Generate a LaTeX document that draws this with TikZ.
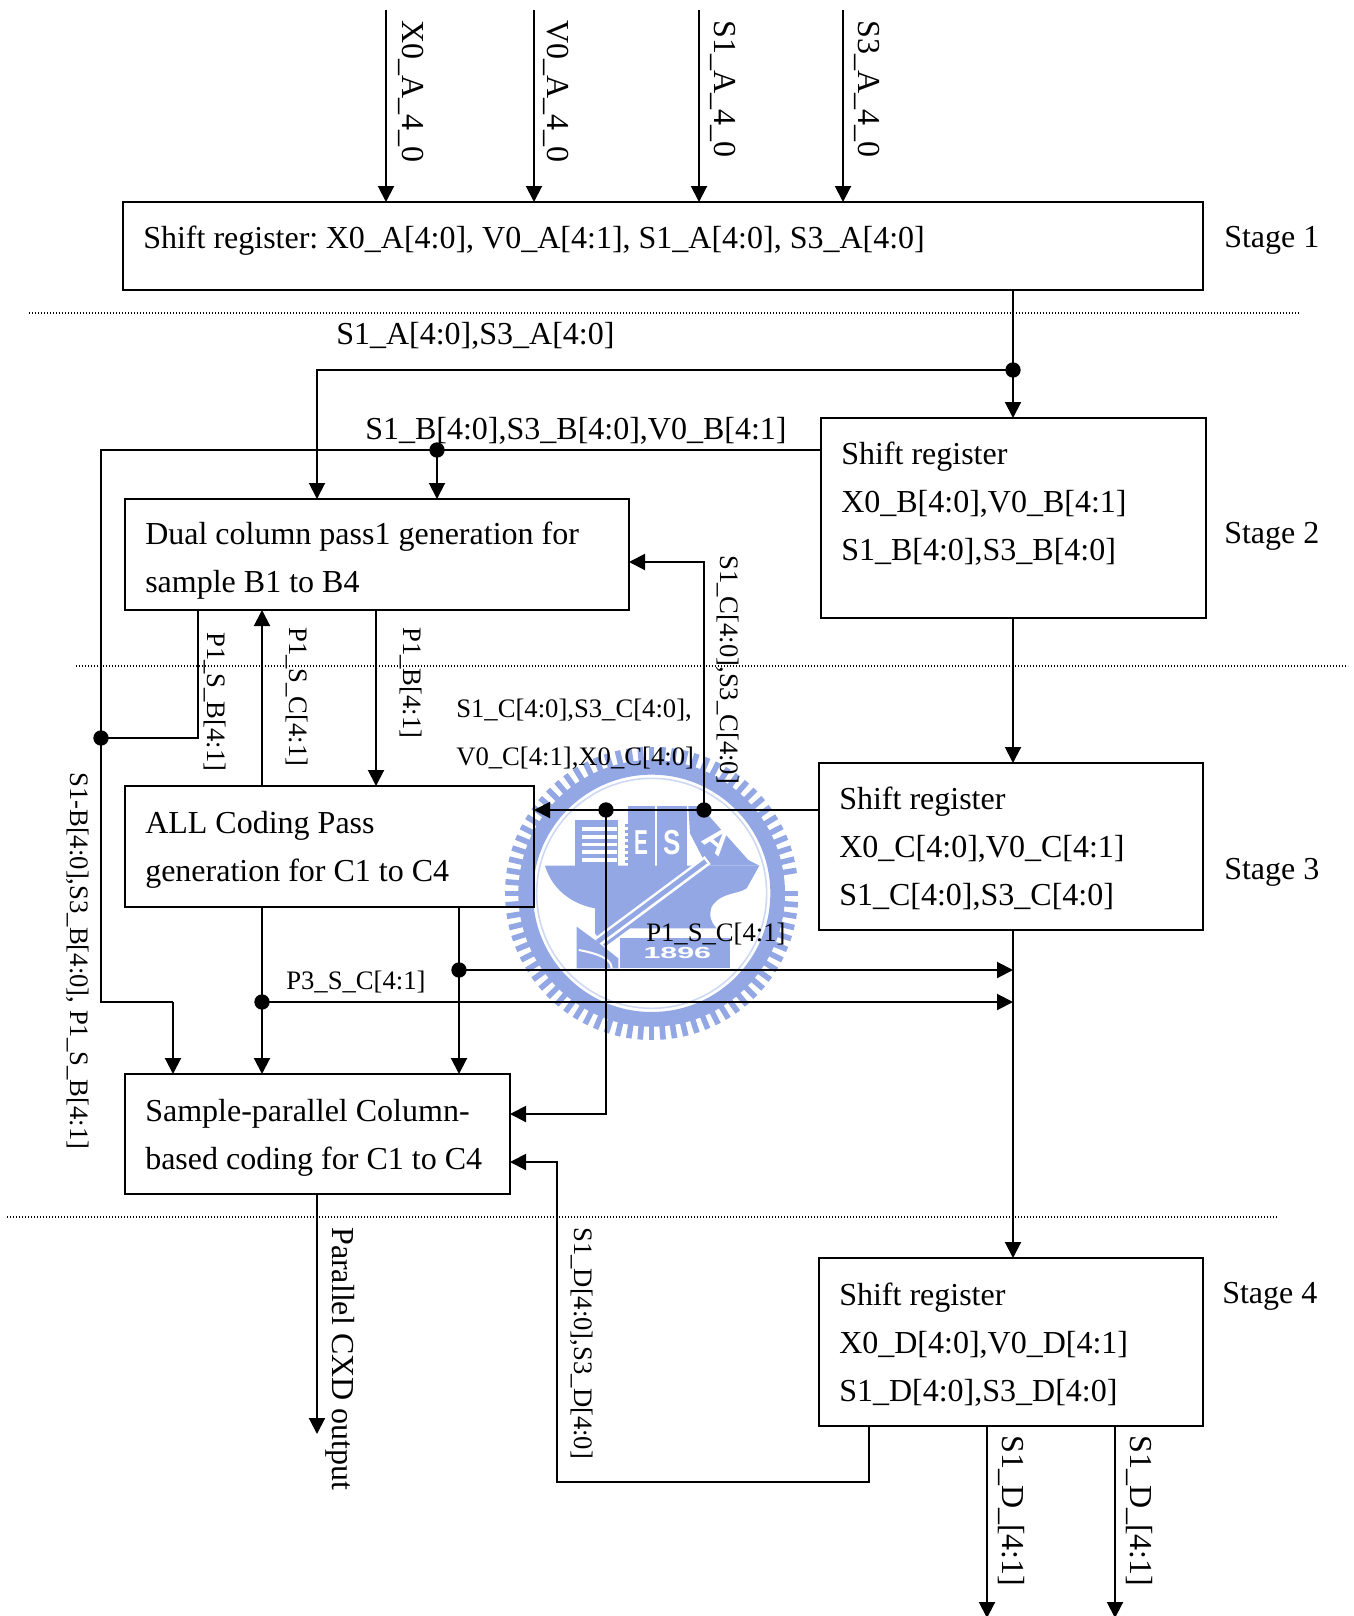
\documentclass[tikz,border=0pt]{standalone}
\usepackage{fontspec}
\setmainfont{Liberation Serif}
\newfontfamily\wmfont{Liberation Sans}
\usetikzlibrary{arrows.meta}
\newcommand{\lblbig}{\fontsize{24}{36}\selectfont}
\newcommand{\lblsmall}{\fontsize{20}{36}\selectfont}
\definecolor{wmblue}{RGB}{146,167,228}
\definecolor{wmpale}{RGB}{205,216,242}
\tikzset{
  regbox/.style={draw=black,line width=1.5pt,anchor=north west,inner sep=0,outer sep=0},
  flow/.style={line width=1.5pt,-{Triangle[length=12pt,width=12pt]}},
  wire/.style={line width=1.5pt},
  joint/.style={circle,fill=black,inner sep=0,minimum size=11.5pt},
  stagesep/.style={line width=0.9pt,dash pattern=on 0.9pt off 1.35pt},
  boxtext/.style={anchor=north west,inner sep=0,align=left,font=\lblbig},
  lbl/.style={anchor=base west,inner sep=0,font=\lblbig},
  lblsm/.style={anchor=base west,inner sep=0,font=\lblsmall},
  rotlbl/.style={lbl,rotate=-90},
  rotlblsm/.style={lblsm,rotate=-90},
  wmtext/.style={inner sep=0,text=white,font=\wmfont\bfseries\fontsize{26}{28}\selectfont},
}
\begin{document}
\begin{tikzpicture}[x=0.75pt,y=0.75pt,yscale=-1,xscale=1]
\useasboundingbox (0,0) rectangle (1353,1616);

% Watermark
\begin{scope}[shift={(480,720)},scale=0.33333]
\foreach \a in {0,4.5,...,355} {
  \draw [wmblue,line width=4.2pt] (515,520) ++(\a:395) -- ++(\a:45);
}
\draw [wmblue,line width=11pt] (515,520) circle (378);
\draw [wmpale,line width=1.2pt] (515,520) circle (345);
\fill [wmblue] (195,437) -- (838,437) -- (800,505) .. controls (770,525) and (725,515) .. (695,560) .. controls (685,590) and (695,610) .. (710,625) -- (450,625) -- (375,680) -- (345,640) -- (345,565) .. controls (290,555) and (220,520) .. (195,437) -- cycle;
\fill [wmblue] (625,258) -- (660,258) -- (805,420) -- (838,437) -- (680,437) -- (630,340) -- cycle;
\fill [wmblue] (285,300) rectangle (415,440);
\fill [wmblue] (445,258) rectangle (525,440);
\fill [wmblue] (530,258) rectangle (620,440);
\foreach \y in {322,345,368,391,414} {
  \fill [white] (305,\y) rectangle (410,\y+11);
}
\foreach \y in {312,330,348,366,384,402,420} {
  \fill [wmblue] (435,\y) rectangle (445,\y+9);
}
\draw [white,line width=7.5pt] (683,420) -- (358,662);
\draw [wmblue,line width=3.6pt] (677,424) -- (352,666);
\fill [wmblue] (420,655) rectangle (750,745);
\fill [wmblue] (290,620) -- (345,660) -- (415,715) -- (415,745) -- (290,745) -- cycle;
\draw [white,line width=1.5pt] (296,690) .. controls (350,700) and (395,715) .. (395,745);
\node (wmE) [wmtext,xscale=0.6] at (485,367) {E};
\node (wmS) [wmtext,xscale=0.75] at (575,367) {S};
\node (wmA) [wmtext,rotate=-40] at (713,362) {A};
\node (wmYear) [wmtext,xscale=1.9,font=\wmfont\bfseries\fontsize{12}{14}\selectfont] at (592,698) {1896};
\end{scope}

% Stage lines
\draw [stagesep] (29,313) -- (1300,313);
\draw [stagesep] (76,666) -- (1348,666);
\draw [stagesep] (7,1217) -- (1278,1217);

% Boxes
\node (shiftA) [regbox,minimum width=810pt,minimum height=66pt] at (123,202) {};
\node (shiftB) [regbox,minimum width=288.75pt,minimum height=150pt] at (821,418) {};
\node (dualB) [regbox,minimum width=378pt,minimum height=83.25pt] at (125,499) {};
\node (codeC) [regbox,minimum width=306.75pt,minimum height=90.75pt] at (125,786) {};
\node (shiftC) [regbox,minimum width=288pt,minimum height=125.25pt] at (819,763) {};
\node (sampleC) [regbox,minimum width=288.75pt,minimum height=90pt] at (125,1074) {};
\node (shiftD) [regbox,minimum width=288pt,minimum height=126pt] at (819,1258) {};

% Joints
\node (jointA) [joint] at (1013,370) {};
\node (jointB) [joint] at (437,450) {};
\node (jointC) [joint] at (101,738) {};
\node (jointD) [joint] at (606,810) {};
\node (jointE) [joint] at (704,810) {};
\node (jointF) [joint] at (459,970) {};
\node (jointG) [joint] at (262,1002) {};

\coordinate (inX) at (386,10);
\coordinate (inV) at (534,10);
\coordinate (inS) at (699,10);
\coordinate (inT) at (843,10);
\coordinate (cornerA) at (317,370);
\coordinate (cornerB) at (101,450);
\coordinate (cornerC) at (101,1002);
\coordinate (cornerD) at (173,1002);
\coordinate (cornerE) at (198,738);
\coordinate (tapB) at (376,700);
\coordinate (cornerF) at (704,562);
\coordinate (cornerG) at (606,1114);
\coordinate (outC) at (317,1434);
\coordinate (cornerH) at (869,1482);
\coordinate (cornerI) at (557,1482);
\coordinate (cornerJ) at (557,1162);
\coordinate (outD) at (987,1618);
\coordinate (outE) at (1115,1618);

% Connectors
\draw [flow] (inX) -- (inX |- shiftA.north);
\draw [flow] (inV) -- (inV |- shiftA.north);
\draw [flow] (inS) -- (inS |- shiftA.north);
\draw [flow] (inT) -- (inT |- shiftA.north);
\draw [flow] (shiftA.south -| jointA) -- (shiftB.north -| jointA);
\draw [flow] (jointA.center) -- (cornerA) -- (cornerA |- dualB.north);
\draw [wire] (jointB -| shiftB.west) -- (cornerB) -- (cornerC) -- (cornerD);
\draw [flow] (cornerD) -- (cornerD |- sampleC.north);
\draw [flow] (jointB.center) -- (jointB |- dualB.north);
\draw [wire] (jointC.center) -- (cornerE) -- (cornerE |- dualB.south);
\draw [flow] (jointG |- codeC.north) -- (jointG |- dualB.south);
\draw [flow] (tapB |- dualB.south) -- (tapB |- codeC.north);
\draw [flow] (shiftB.south -| jointA) -- (shiftC.north -| jointA);
\draw [flow] (shiftC.south -| jointA) -- (shiftD.north -| jointA);
\draw [flow] (jointE -| shiftC.west) -- (jointE -| codeC.east);
\draw [flow] (jointE.center) -- (cornerF) -- (cornerF -| dualB.east);
\draw [flow] (jointD.center) -- (cornerG) -- (cornerG -| sampleC.east);
\draw [flow] (jointG |- codeC.south) -- (jointG |- sampleC.north);
\draw [flow] (jointF |- codeC.south) -- (jointF |- sampleC.north);
\draw [flow] (jointF.center) -- (jointF -| jointA);
\draw [flow] (jointG.center) -- (jointG -| jointA);
\draw [flow] (outC |- sampleC.south) -- (outC);
\draw [flow] (cornerH |- shiftD.south) -- (cornerH) -- (cornerI) -- (cornerJ) -- (cornerJ -| sampleC.east);
\draw [flow] (outD |- shiftD.south) -- (outD);
\draw [flow] (outE |- shiftD.south) -- (outE);

% Box text
\node (textA) [lbl] at (143,248) {Shift register:\hspace{-0.1em} X0\_A[4:0], V0\_A[4:1], S1\_A[4:0], S3\_A[4:0]};
\node (textB) [boxtext] at (841,442) {Shift register\\X0\_B[4:0],V0\_B[4:1]\\S1\_B[4:0],S3\_B[4:0]};
\node (textDual) [boxtext] at (145,522) {Dual column pass1 generation for\\sample B1 to B4};
\node (textCode) [boxtext] at (145,811) {ALL Coding Pass\\generation for C1 to C4};
\node (textC) [boxtext] at (839,787) {Shift register\\X0\_C[4:0],V0\_C[4:1]\\S1\_C[4:0],S3\_C[4:0]};
\node (textSample) [boxtext] at (145,1099) {Sample-parallel Column-\\based coding for C1 to C4};
\node (textD) [boxtext] at (839,1283) {Shift register\\X0\_D[4:0],V0\_D[4:1]\\S1\_D[4:0],S3\_D[4:0]};

% Stage names
\node (stageA) [lbl] at (1224,247) {Stage 1};
\node (stageB) [lbl] at (1224,543) {Stage 2};
\node (stageC) [lbl] at (1224,879) {Stage 3};
\node (stageD) [lbl] at (1222,1303) {Stage 4};

% Signal names
\node (sigA) [lbl] at (336,344) {S1\_A[4:0],S3\_A[4:0]};
\node (sigB) [lbl] at (365,439) {S1\_B[4:0],S3\_B[4:0],V0\_B[4:1]};
\node (sigC) [lblsm] at (456,717) {S1\_C[4:0],S3\_C[4:0],};
\node (sigCb) [lblsm] at (456,765) {V0\_C[4:1],X0\_C[4:0]};
\node (sigP) [lblsm] at (646,941) {P1\_S\_C[4:1]};
\node (sigQ) [lblsm] at (286,989) {P3\_S\_C[4:1]};

\node (rotX) [rotlbl] at (402,20) {X0\_A\_4\_0};
\node (rotV) [rotlbl] at (547,20) {V0\_A\_4\_0};
\node (rotS) [rotlbl] at (714,20) {S1\_A\_4\_0};
\node (rotT) [rotlbl] at (858,20) {S3\_A\_4\_0};
\node (rotPb) [rotlblsm] at (207,632) {P1\_S\_B[4:1]};
\node (rotPc) [rotlblsm] at (289,627) {P1\_S\_C[4:1]};
\node (rotPd) [rotlblsm] at (403,627) {P1\_B[4:1]};
\node (rotB) [rotlblsm] at (70,772) {S1-B[4:0],S3\_B[4:0], P1\_S\_B[4:1]};
\node (rotC) [rotlblsm] at (720,555) {S1\_C[4:0],S3\_C[4:0]};
\node (rotD) [rotlblsm] at (574,1227) {S1\_D[4:0],S3\_D[4:0]};
\node (rotOut) [rotlbl] at (332,1227) {Parallel CXD output};
\node (rotE) [rotlbl] at (1002,1435) {S1\_D\_[4:1]};
\node (rotF) [rotlbl] at (1130,1435) {S1\_D\_[4:1]};

\end{tikzpicture}
\end{document}
